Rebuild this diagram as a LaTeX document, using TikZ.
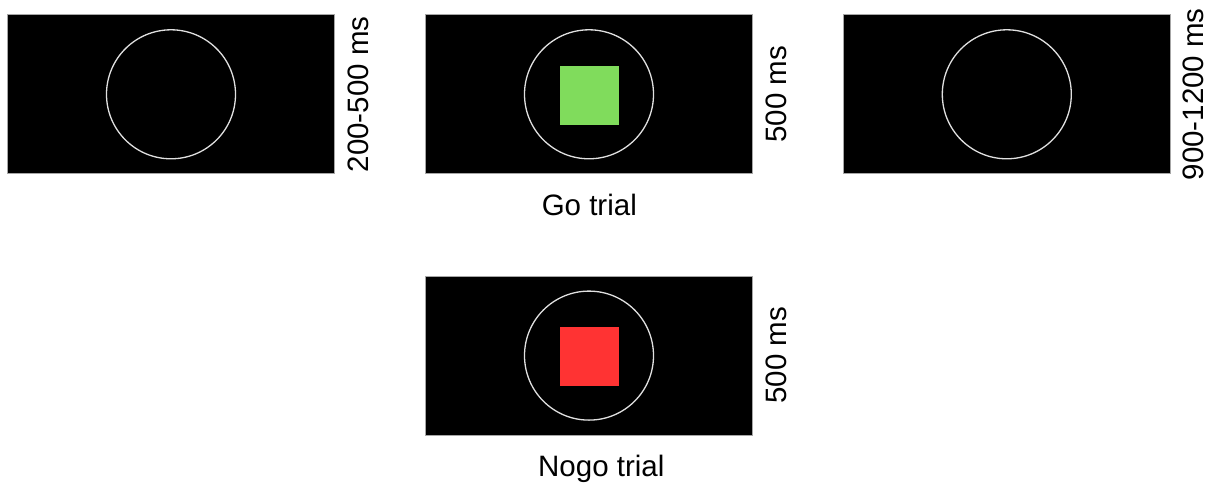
\documentclass[tikz,border=0pt]{standalone}
\usepackage{fontspec}
\setmainfont{Liberation Sans}
\begin{document}
\begin{tikzpicture}[x=1pt,y=-1pt,
  panel/.style={draw=black!35,fill=black,line width=0.8pt,minimum width=327pt,minimum height=159pt,inner sep=0pt},
  ring/.style={circle,draw=white!88!black,line width=1.3pt,minimum size=129pt,inner sep=0pt},
  stim/.style={minimum width=59pt,minimum height=59pt,inner sep=0pt},
  lbl/.style={font=\fontsize{29.5}{34}\selectfont,inner sep=0pt},
  dur/.style={lbl,rotate=90,anchor=center}]
\useasboundingbox (0,0) rectangle (1209,482);
% top row
\node[panel] (p1) at (171,94.3) {};
\node[ring] (c1) at (171,94.3) {};
\node[dur] (t1) at (358.5,94.5) {200-500 ms};

\node[panel] (p2) at (589,94.3) {};
\node[ring] (c2) at (589,94.3) {};
\node[stim,fill={rgb,255:red,128;green,220;blue,92}] (s2) at (589,95.5) {};
\node[dur] (t2) at (776.5,94.3) {500 ms};
\node[lbl,anchor=base] (g2) at (589.3,215.3) {Go trial};

\node[panel] (p3) at (1006.8,94.3) {};
\node[ring] (c3) at (1006.8,94.3) {};
\node[dur] (t3) at (1193.5,94.3) {900-1200 ms};

% bottom row
\node[panel] (p4) at (589,355.4) {};
\node[ring] (c4) at (589,355.6) {};
\node[stim,fill={rgb,255:red,255;green,51;blue,51}] (s4) at (589,356) {};
\node[dur] (t4) at (776.5,355.3) {500 ms};
\node[lbl,anchor=base] (g4) at (601.3,476.7) {Nogo trial};
\end{tikzpicture}
\end{document}
